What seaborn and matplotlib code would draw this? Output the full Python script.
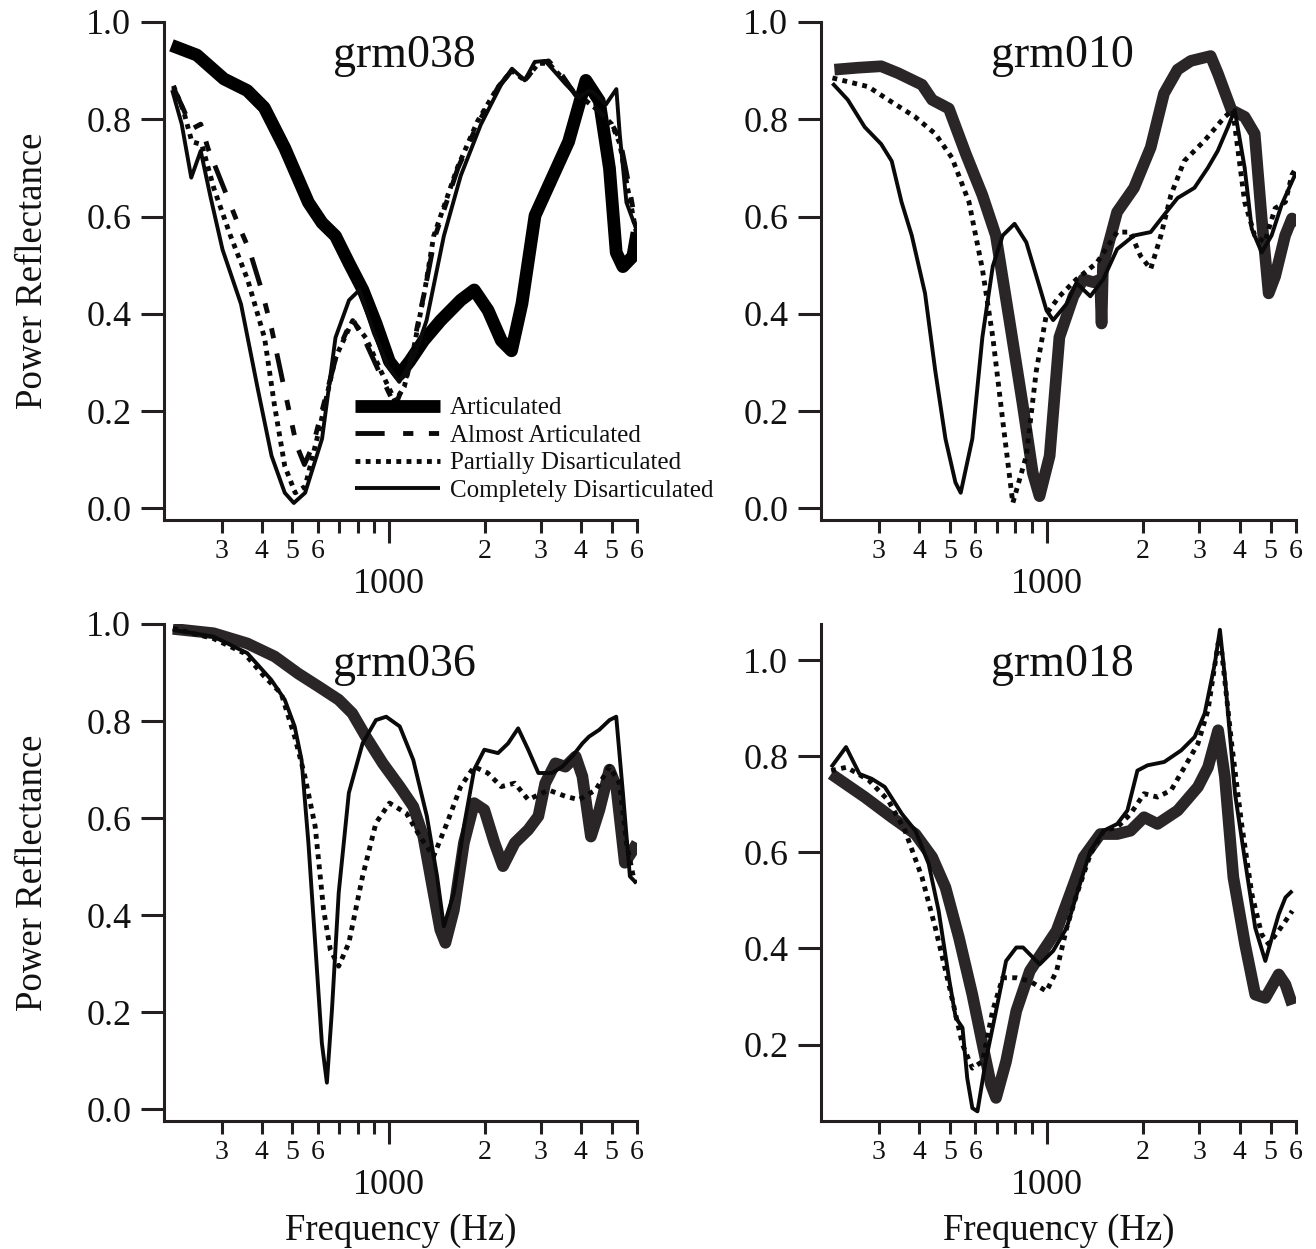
import matplotlib
matplotlib.use("Agg")
import matplotlib.pyplot as plt
import numpy as np
import pandas as pd
import seaborn as sns
from matplotlib.ticker import FixedLocator, FixedFormatter

sns.set_theme(style="ticks")
plt.rcParams["font.family"] = ["Liberation Serif", "DejaVu Serif"]
plt.rcParams["text.color"] = "#111111"
plt.rcParams["axes.labelcolor"] = "#111111"
plt.rcParams["xtick.color"] = "#231f20"
plt.rcParams["ytick.color"] = "#231f20"
plt.rcParams["xtick.labelcolor"] = "#111111"
plt.rcParams["ytick.labelcolor"] = "#111111"

# ---------------- data ----------------
conditions = ["Articulated", "Almost Articulated",
              "Partially Disarticulated", "Completely Disarticulated"]

# grm038
tl_art_f = [209, 251, 305, 361, 408, 473, 561, 619, 682, 752, 831, 914, 1006, 1082, 1164, 1288, 1455, 1683,
            1855, 2050, 2255, 2427, 2617, 2876, 3246, 3664, 4150, 4570, 4920, 5165, 5420, 5820, 6000]
tl_art_r = [0.952, 0.932, 0.883, 0.859, 0.824, 0.741, 0.629, 0.587, 0.560, 0.504, 0.449, 0.380, 0.302, 0.275,
            0.302, 0.345, 0.386, 0.428, 0.449, 0.407, 0.345, 0.324, 0.421, 0.602, 0.678, 0.754, 0.880, 0.838,
            0.699, 0.526, 0.497, 0.518, 0.567]
tl_alm_f = [212, 228, 242, 258, 272, 300, 340, 367, 400, 430, 470, 515, 545, 580, 630, 690, 770, 850, 950, 1050,
            1150, 1300, 1400, 1650, 1900, 2200, 2430, 2670, 2950, 3170, 3500, 3850, 4150, 4500, 5000, 5300, 5600,
            6000]
tl_alm_r = [0.865, 0.82, 0.78, 0.79, 0.74, 0.67, 0.58, 0.53, 0.45, 0.37, 0.25, 0.13, 0.09, 0.13, 0.22, 0.32, 0.39,
            0.34, 0.27, 0.21, 0.28, 0.45, 0.56, 0.70, 0.79, 0.865, 0.90, 0.88, 0.915, 0.92, 0.89, 0.85, 0.84, 0.82,
            0.79, 0.76, 0.68, 0.57]
tl_par_f = [212, 228, 242, 260, 284, 320, 362, 409, 439, 473, 510, 548, 604, 682, 772, 850, 950, 1050, 1120, 1200,
            1300, 1385, 1642, 1900, 2195, 2430, 2670, 2950, 3170, 3490, 3850, 4150, 4500, 5000, 5300, 5600, 6000]
tl_par_r = [0.869, 0.817, 0.754, 0.748, 0.657, 0.56, 0.47, 0.35, 0.213, 0.087, 0.032, 0.045, 0.157, 0.31, 0.386,
            0.35, 0.28, 0.22, 0.25, 0.33, 0.45, 0.56, 0.70, 0.796, 0.865, 0.90, 0.88, 0.915, 0.915, 0.886, 0.852,
            0.838, 0.82, 0.79, 0.75, 0.66, 0.56]
tl_com_f = [210, 225, 241, 258, 277, 302, 345, 389, 430, 473, 505, 548, 619, 682, 752, 811, 900, 1000, 1080, 1200,
            1315, 1490, 1683, 1945, 2255, 2435, 2670, 2870, 3095, 3590, 3940, 4250, 4450, 4790, 5170, 5300, 5560,
            5970]
tl_com_r = [0.86, 0.79, 0.68, 0.735, 0.64, 0.532, 0.42, 0.247, 0.108, 0.032, 0.011, 0.032, 0.143, 0.351, 0.428,
            0.449, 0.36, 0.29, 0.26, 0.31, 0.386, 0.56, 0.684, 0.789, 0.872, 0.904, 0.88, 0.918, 0.92, 0.872, 0.845,
            0.859, 0.852, 0.83, 0.862, 0.768, 0.629, 0.574]

# grm010
tr_art_f = [218, 258, 305, 344, 409, 440, 496, 560, 631, 695, 766, 843, 906, 951, 1023, 1097, 1213, 1303, 1399,
            1470, 1485, 1500, 1660, 1875, 2113, 2325, 2563, 2818, 3250, 3420, 3774, 4150, 4460, 4690, 4930, 5165,
            5550, 5830, 6000]
tr_art_r = [0.902, 0.906, 0.909, 0.895, 0.871, 0.840, 0.822, 0.729, 0.644, 0.561, 0.387, 0.213, 0.073, 0.025,
            0.108, 0.352, 0.436, 0.471, 0.465, 0.47, 0.38, 0.50, 0.609, 0.659, 0.742, 0.853, 0.902, 0.920, 0.930,
            0.895, 0.819, 0.805, 0.770, 0.596, 0.442, 0.477, 0.561, 0.596, 0.58]
tr_par_f = [215, 278, 321, 389, 450, 507, 573, 631, 680, 731, 785, 865, 929, 1000, 1097, 1240, 1436, 1660, 1823,
            1965, 2113, 2274, 2443, 2687, 3110, 3597, 3810, 4150, 4460, 4790, 5165, 5560, 5830, 6000]
tr_par_r = [0.885, 0.867, 0.840, 0.805, 0.770, 0.721, 0.630, 0.492, 0.352, 0.178, 0.011, 0.108, 0.282, 0.40,
            0.436, 0.471, 0.505, 0.568, 0.568, 0.519, 0.492, 0.561, 0.644, 0.714, 0.756, 0.805, 0.819, 0.63, 0.561,
            0.547, 0.617, 0.630, 0.686, 0.70]
tr_com_f = [215, 240, 271, 305, 329, 353, 380, 418, 450, 484, 520, 540, 587, 631, 680, 730, 795, 865, 951, 1000,
            1049, 1154, 1240, 1370, 1503, 1660, 1875, 2113, 2325, 2563, 2893, 3185, 3420, 3680, 3865, 4150, 4365,
            4690, 5035, 5410, 5830, 6000]
tr_com_r = [0.874, 0.840, 0.784, 0.749, 0.714, 0.63, 0.561, 0.442, 0.282, 0.143, 0.053, 0.032, 0.143, 0.352,
            0.498, 0.561, 0.585, 0.547, 0.456, 0.407, 0.387, 0.42, 0.463, 0.436, 0.471, 0.533, 0.561, 0.568, 0.603,
            0.638, 0.659, 0.700, 0.735, 0.784, 0.819, 0.70, 0.575, 0.526, 0.561, 0.624, 0.672, 0.69]

# grm036
bl_art_f = [211, 283, 361, 440, 521, 604, 698, 770, 849, 959, 1084, 1195, 1285, 1383, 1452, 1507, 1602, 1722,
            1854, 1995, 2147, 2282, 2485, 2738, 2946, 3095, 3330, 3580, 3855, 4047, 4303, 4575, 4920, 5165, 5495,
            5840, 6000]
bl_art_r = [0.99, 0.981, 0.960, 0.933, 0.898, 0.871, 0.844, 0.816, 0.768, 0.713, 0.665, 0.624, 0.562, 0.446,
            0.370, 0.343, 0.411, 0.549, 0.631, 0.617, 0.549, 0.501, 0.549, 0.576, 0.604, 0.672, 0.713, 0.706,
            0.727, 0.686, 0.562, 0.617, 0.70, 0.665, 0.508, 0.535, 0.549]
bl_par_f = [211, 283, 353, 408, 461, 508, 547, 589, 626, 657, 698, 751, 829, 913, 1007, 1137, 1255, 1383, 1525,
            1682, 1854, 2045, 2254, 2485, 2738, 3170, 3580, 3945, 4455, 4920, 5285, 5560, 5840, 5980]
bl_par_r = [0.991, 0.970, 0.940, 0.892, 0.857, 0.768, 0.686, 0.583, 0.411, 0.329, 0.295, 0.343, 0.480, 0.590,
            0.631, 0.610, 0.562, 0.521, 0.590, 0.665, 0.706, 0.693, 0.665, 0.672, 0.638, 0.658, 0.645, 0.638,
            0.658, 0.706, 0.672, 0.549, 0.480, 0.466]
bl_com_f = [211, 283, 361, 429, 473, 508, 534, 561, 589, 618, 641, 665, 698, 751, 829, 913, 983, 1084, 1195, 1318,
            1419, 1490, 1602, 1722, 1854, 1995, 2202, 2368, 2546, 2738, 2946, 3250, 3497, 3760, 4047, 4246, 4570,
            4920, 5165, 5420, 5700, 5980]
bl_com_r = [0.988, 0.974, 0.940, 0.885, 0.844, 0.789, 0.720, 0.549, 0.343, 0.137, 0.055, 0.206, 0.446, 0.652,
            0.754, 0.802, 0.809, 0.789, 0.720, 0.604, 0.480, 0.377, 0.446, 0.583, 0.700, 0.741, 0.734, 0.754,
            0.785, 0.741, 0.693, 0.693, 0.706, 0.727, 0.754, 0.768, 0.782, 0.802, 0.809, 0.652, 0.480, 0.466]

# grm018
br_art_f = [213, 271, 329, 390, 440, 484, 533, 587, 632, 671, 696, 748, 805, 887, 976, 1075, 1184, 1305, 1472,
            1662, 1829, 2015, 2219, 2566, 2967, 3190, 3430, 3600, 3826, 4160, 4477, 4813, 5300, 5562, 5842]
br_art_r = [0.763, 0.715, 0.673, 0.638, 0.590, 0.527, 0.423, 0.304, 0.20, 0.117, 0.089, 0.165, 0.270, 0.353,
            0.395, 0.437, 0.513, 0.590, 0.638, 0.638, 0.645, 0.673, 0.659, 0.687, 0.736, 0.777, 0.854, 0.757,
            0.548, 0.409, 0.304, 0.297, 0.346, 0.325, 0.283]
br_par_f = [213, 238, 279, 321, 362, 409, 450, 496, 547, 587, 632, 679, 730, 805, 887, 1000, 1075, 1156, 1243,
            1370, 1508, 1662, 1829, 2015, 2219, 2446, 2693, 2967, 3190, 3430, 3515, 3780, 4060, 4370, 4690, 4930,
            5300, 5562, 5842]
br_par_r = [0.77, 0.777, 0.750, 0.708, 0.645, 0.548, 0.443, 0.325, 0.20, 0.151, 0.165, 0.270, 0.339, 0.339,
            0.332, 0.311, 0.353, 0.443, 0.513, 0.596, 0.645, 0.652, 0.680, 0.722, 0.715, 0.729, 0.777, 0.826,
            0.896, 1.035, 1.02, 0.826, 0.659, 0.513, 0.429, 0.409, 0.437, 0.457, 0.478]
br_com_f = [213, 237, 261, 285, 313, 354, 390, 429, 461, 496, 521, 547, 566, 587, 609, 646, 696, 748, 805, 845,
            952, 1049, 1156, 1243, 1370, 1508, 1662, 1788, 1921, 2066, 2329, 2630, 2898, 3114, 3350, 3474, 3600,
            3872, 4160, 4477, 4813, 5050, 5300, 5562, 5842]
br_com_r = [0.777, 0.819, 0.763, 0.753, 0.736, 0.680, 0.645, 0.576, 0.478, 0.339, 0.256, 0.235, 0.130, 0.068,
            0.061, 0.165, 0.270, 0.374, 0.402, 0.402, 0.367, 0.395, 0.443, 0.513, 0.603, 0.645, 0.659, 0.687,
            0.770, 0.781, 0.788, 0.812, 0.840, 0.889, 0.993, 1.063, 0.965, 0.722, 0.583, 0.443, 0.374, 0.423,
            0.471, 0.506, 0.520]

titles = ["grm038", "grm010", "grm036", "grm018"]
major_ticks = [1000]
major_labels = ["1000"]
minor_ticks = [300, 400, 500, 600, 700, 800, 900, 2000, 3000, 4000, 5000, 6000]
minor_labels = ["3", "4", "5", "6", "", "", "", "2", "3", "4", "5", "6"]
ytick_std = [0.0, 0.2, 0.4, 0.6, 0.8, 1.0]
ytick_br = [0.2, 0.4, 0.6, 0.8, 1.0]

# ---------------- figure ----------------
W, H = 1316, 1249
fig = plt.figure(figsize=(W / 100, H / 100), dpi=100)


def frame(series):
    parts = []
    for cond, (f, r) in series.items():
        parts.append(pd.DataFrame({"Frequency": f, "Reflectance": r, "Condition": cond}))
    return pd.concat(parts, ignore_index=True)


dash_map = {"Articulated": "",
            "Almost Articulated": (6.0, 3.8, 2.1, 3.2, 2.1, 3.2),
            "Partially Disarticulated": (1.0, 1.1),
            "Completely Disarticulated": ""}

panels = [
    dict(title=titles[0], box=(164, 22, 637, 520), ylim=(-0.024, 1.0), yt=ytick_std, tbase=0.910,
         series={"Articulated": (tl_art_f, tl_art_r), "Almost Articulated": (tl_alm_f, tl_alm_r),
                 "Partially Disarticulated": (tl_par_f, tl_par_r),
                 "Completely Disarticulated": (tl_com_f, tl_com_r)},
         thick="#000000", tlw=9.2, left=True, bottom=False),
    dict(title=titles[1], box=(821, 22, 1296, 520), ylim=(-0.024, 1.0), yt=ytick_std, tbase=0.910,
         series={"Articulated": (tr_art_f, tr_art_r), "Partially Disarticulated": (tr_par_f, tr_par_r),
                 "Completely Disarticulated": (tr_com_f, tr_com_r)},
         thick="#2a2627", tlw=8.4, left=False, bottom=False),
    dict(title=titles[2], box=(164, 624, 637, 1121), ylim=(-0.024, 1.0), yt=ytick_std, tbase=0.895,
         series={"Articulated": (bl_art_f, bl_art_r), "Partially Disarticulated": (bl_par_f, bl_par_r),
                 "Completely Disarticulated": (bl_com_f, bl_com_r)},
         thick="#2a2627", tlw=8.4, left=True, bottom=True),
    dict(title=titles[3], box=(821, 624, 1296, 1121), ylim=(0.041, 1.075), yt=ytick_br, tbase=0.895,
         series={"Articulated": (br_art_f, br_art_r), "Partially Disarticulated": (br_par_f, br_par_r),
                 "Completely Disarticulated": (br_com_f, br_com_r)},
         thick="#2a2627", tlw=8.4, left=False, bottom=True),
]

axes = []
for p in panels:
    x0, y0, x1, y1 = p["box"]
    ax = fig.add_axes([x0 / W, 1 - y1 / H, (x1 - x0) / W, (y1 - y0) / H])
    axes.append(ax)
    df = frame(p["series"])
    conds = list(p["series"].keys())
    pal = {c: (p["thick"] if c == "Articulated" else "#0a0a0a") for c in conds}
    sizes = {"Articulated": p["tlw"], "Almost Articulated": 3.5,
             "Partially Disarticulated": 3.5, "Completely Disarticulated": 2.8}
    sns.lineplot(data=df, x="Frequency", y="Reflectance", hue="Condition", size="Condition",
                 style="Condition", hue_order=conds, size_order=conds, style_order=conds,
                 palette=pal, sizes={c: sizes[c] for c in conds},
                 dashes={c: dash_map[c] for c in conds},
                 estimator=None, sort=False, legend=False, ax=ax,
                 solid_capstyle="butt", solid_joinstyle="round", dash_capstyle="butt")

    ax.set_xscale("log")
    ax.set_xlim(198, 6000)
    ax.set_ylim(*p["ylim"])
    ax.xaxis.set_major_locator(FixedLocator(major_ticks))
    ax.xaxis.set_major_formatter(FixedFormatter(major_labels))
    ax.xaxis.set_minor_locator(FixedLocator(minor_ticks))
    ax.xaxis.set_minor_formatter(FixedFormatter(minor_labels))
    ax.yaxis.set_major_locator(FixedLocator(p["yt"]))
    ax.yaxis.set_major_formatter(FixedFormatter([f"{v:.1f}" for v in p["yt"]]))
    ax.yaxis.set_minor_locator(FixedLocator([]))

    ax.tick_params(axis="y", which="major", length=16.5, width=2.2, pad=7, labelsize=26)
    ax.tick_params(axis="x", which="major", length=16.3, width=2.2, pad=18, labelsize=26)
    ax.tick_params(axis="x", which="minor", length=9, width=2.2, pad=4.5, labelsize=20)
    sns.despine(ax=ax)
    for s in ("left", "bottom"):
        ax.spines[s].set_linewidth(2.2)
        ax.spines[s].set_color("#231f20")

    ax.text(0.508, p["tbase"], p["title"], transform=ax.transAxes, ha="center",
            va="baseline", fontsize=33)

    if p["left"]:
        ax.set_ylabel("Power Reflectance", fontsize=26.5)
        ax.yaxis.set_label_coords(-0.24, 0.5)
    else:
        ax.set_ylabel("")
    if p["bottom"]:
        ax.set_xlabel("Frequency (Hz)", fontsize=26.5)
        ax.xaxis.set_label_coords(0.5, -0.186)
    else:
        ax.set_xlabel("")

# legend (first panel)
ax0 = axes[0]
ax0.legend(handles=ax0.lines[:4], labels=conditions, loc="upper left",
           bbox_to_anchor=(355 / W, 1 - 397 / H), bbox_transform=fig.transFigure,
           frameon=False, fontsize=18, handlelength=3.4, handletextpad=0.4,
           labelspacing=0.2, borderpad=0, borderaxespad=0)

fig.savefig("out.png", dpi=100)
